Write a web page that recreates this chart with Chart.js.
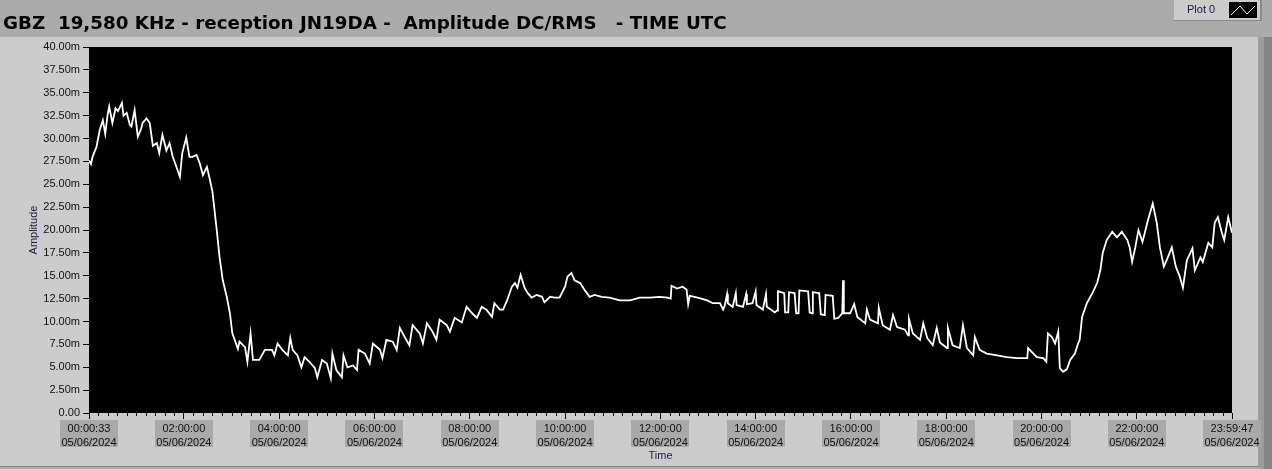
<!DOCTYPE html>
<html>
<head>
<meta charset="utf-8">
<script src="https://cdn.jsdelivr.net/npm/chart.js@4/dist/chart.umd.min.js"></script>
<style>
  html, body { margin: 0; padding: 0; background: #ababab; }
  #wrap { width: 1272px; height: 469px; }
</style>
</head>
<body>
<div id="wrap"><canvas id="ampChart" width="1272" height="469"></canvas></div>
<script>
// Sample times in minutes after midnight UTC (05/06/2024)
const minutes = [
  0.55, 3, 5, 10, 14, 18, 21, 24, 26, 30, 34, 37, 42, 44, 48, 52, 54, 58, 62, 66,
  68, 73, 77, 81, 86, 89, 93, 98, 102, 106, 111, 115, 118, 123, 127, 131, 136, 140, 144, 149,
  152, 156, 161, 165, 169, 174, 178, 181, 184, 188, 190, 197, 200, 204, 207, 215, 222, 231, 234, 238,
  244, 251, 254, 257, 263, 268, 272, 278, 285, 288, 294, 300, 305, 307, 312, 319, 321, 326, 333, 338,
  340, 348, 354, 358, 367, 370, 375, 383, 388, 392, 398, 404, 408, 417, 421, 426, 433, 438, 442, 451,
  455, 461, 470, 476, 483, 489, 495, 501, 508, 511, 518, 522, 527, 533, 537, 540, 544, 549, 553, 558,
  564, 571, 574, 581, 587, 593, 600, 603, 608, 612, 619, 625, 631, 637, 646, 656, 669, 682, 694, 707,
  719, 729, 733, 734, 741, 748, 753, 755, 757, 767, 779, 786, 795, 799, 801, 804, 805, 811, 815, 816,
  824, 828, 829, 836, 840, 841, 849, 853, 854, 864, 867, 868, 876, 877, 881, 882, 889, 891, 894, 895,
  906, 908, 911, 912, 920, 922, 927, 928, 937, 939, 944, 949, 950, 951, 959,
  964, 968, 978, 980, 984, 994, 995, 1000, 1009, 1013, 1018, 1028, 1032, 1033, 1038, 1047, 1051, 1056, 1063, 1068,
  1072, 1081, 1082, 1088, 1097, 1101, 1106, 1114, 1116, 1122,
  1131, 1144, 1156, 1169, 1182, 1183, 1194, 1202, 1206, 1208, 1213, 1217, 1221, 1223, 1227, 1232, 1236, 1242, 1246, 1248, 1251,
  1257, 1264, 1270, 1274, 1277, 1282, 1289, 1295, 1301, 1308, 1311, 1314, 1318, 1322, 1327, 1330, 1334, 1340, 1345, 1349,
  1354, 1359, 1364, 1369, 1374, 1378, 1383, 1390, 1393, 1400, 1403, 1410, 1415, 1418, 1422, 1427, 1430, 1435, 1439.78
];

// Amplitude in milli-units (m)
const amplitude = [
  27.6, 27.2, 28.0, 29.1, 30.9, 32.0, 30.5, 32.6, 33.5, 31.7, 33.3, 33.0, 33.9, 32.5, 32.8, 31.5, 31.3, 33.1, 30.2, 31.0,
  31.7, 32.2, 31.7, 29.2, 29.5, 28.4, 30.4, 28.7, 29.5, 28.0, 26.8, 25.8, 28.4, 30.1, 28.0, 28.0, 28.2, 27.3, 26.0, 26.9,
  25.8, 24.2, 20.3, 17.0, 14.5, 12.7, 10.9, 8.7, 8.0, 7.0, 7.8, 7.2, 5.6, 8.7, 5.8, 5.8, 6.9, 6.9, 6.3, 7.6,
  6.9, 6.3, 8.2, 6.9, 6.3, 5.0, 6.1, 5.6, 4.9, 3.9, 5.8, 5.4, 3.8, 6.5, 4.7, 3.9, 6.3, 5.0, 5.2, 4.7,
  6.9, 6.5, 5.4, 7.6, 6.9, 6.0, 8.0, 7.8, 6.9, 9.3, 8.3, 7.4, 9.6, 8.7, 7.6, 9.8, 8.9, 8.0, 10.2, 9.6,
  8.9, 10.4, 9.9, 11.6, 10.9, 10.4, 11.6, 11.3, 10.5, 12.0, 11.3, 11.3, 12.3, 13.8, 14.2, 13.7, 15.1, 13.7, 13.1, 12.6,
  12.9, 12.7, 12.1, 12.7, 12.6, 12.6, 13.8, 14.9, 15.3, 14.5, 14.2, 13.4, 12.7, 12.9, 12.7, 12.6, 12.3, 12.3, 12.6, 12.6,
  12.7, 12.6, 12.5, 13.9, 13.6, 13.8, 13.5, 11.9, 12.8, 12.6, 12.3, 12.0, 12.0, 11.3, 11.7, 13.0, 12.0, 11.6, 13.1, 11.8,
  11.6, 13.0, 11.9, 12.0, 13.3, 11.8, 11.3, 13.0, 11.6, 11.0, 11.2, 13.3, 13.1, 11.0, 11.0, 13.2, 13.1, 10.9, 10.9, 13.4,
  13.3, 11.0, 10.9, 13.2, 13.1, 10.8, 10.7, 12.9, 12.8, 10.3, 10.4, 10.9, 14.5, 10.9, 10.9,
  11.9, 10.5, 9.8, 11.3, 10.2, 9.8, 11.5, 9.6, 9.1, 10.7, 9.4, 9.1, 8.5, 10.3, 8.7, 8.0, 9.8, 8.2, 7.4, 9.3,
  7.7, 7.1, 9.3, 7.4, 7.1, 9.6, 7.1, 6.3, 8.3, 6.9,
  6.5, 6.3, 6.1, 6.0, 6.0, 7.1, 6.1, 6.0, 5.6, 8.7, 8.3, 7.6, 8.9, 4.9, 4.5, 4.8, 5.8, 6.5, 7.6, 8.0, 10.5,
  12.0, 13.1, 14.2, 15.6, 17.5, 18.9, 19.8, 19.2, 19.8, 18.9, 18.1, 16.5, 18.1, 20.0, 18.7, 19.7, 21.1, 22.9, 20.8, 18.1,
  16.0, 17.0, 18.1, 16.0, 14.9, 13.7, 16.7, 18.0, 15.6, 17.0, 16.5, 18.6, 18.1, 20.8, 21.4, 19.7, 18.9, 21.4, 19.7
];

// X axis tick labels (time of day) and the date line under each
const xTickTimes = ['00:00:33', '02:00:00', '04:00:00', '06:00:00', '08:00:00', '10:00:00', '12:00:00',
  '14:00:00', '16:00:00', '18:00:00', '20:00:00', '22:00:00', '23:59:47'];
const xTickDate = '05/06/2024';
const yMax = 40;
const yStep = 2.5;

const chartTitle = 'GBZ  19,580 KHz - reception JN19DA -  Amplitude DC/RMS   - TIME UTC';
const legendLabel = 'Plot 0';

function toMinutes(hms) {
  const p = hms.split(':').map(Number);
  return p[0] * 60 + p[1] + p[2] / 60;
}
const xTickValues = xTickTimes.map(toMinutes);

const tickFont = "11px 'Liberation Sans', Arial, sans-serif";
Chart.defaults.font.family = "'Liberation Sans', Arial, sans-serif";
Chart.defaults.color = '#111';

// panel, plot background, title, legend box, label boxes and minor ticks
const framePlugin = {
  id: 'frame',
  beforeDraw(chart) {
    const ctx = chart.ctx;
    const a = chart.chartArea;
    const x = chart.scales.x;
    ctx.save();
    ctx.fillStyle = '#ababab';
    ctx.fillRect(0, 0, chart.width, chart.height);
    ctx.fillStyle = '#cccccc';
    ctx.fillRect(0, 37, 1258, 429);
    ctx.fillStyle = '#9c9c9c';
    ctx.fillRect(1258, 37, 6, 432);
    ctx.fillStyle = '#858585';
    ctx.fillRect(1264, 37, 8, 432);
    ctx.fillRect(0, 466, 1258, 1);
    ctx.fillStyle = '#000';
    ctx.fillRect(a.left, a.top, a.right - a.left, a.bottom - a.top);

    // gray boxes behind the time labels
    ctx.font = tickFont;
    ctx.fillStyle = '#a9a9a9';
    xTickValues.forEach(function(v) {
      const w = Math.ceil(ctx.measureText(xTickDate).width) + 2;
      const px = x.getPixelForValue(v);
      ctx.fillRect(Math.round(px - w / 2), a.bottom + 7, w, 27);
    });

    // title
    ctx.fillStyle = '#000';
    ctx.font = "bold 18.3px 'DejaVu Sans', Verdana, sans-serif";
    ctx.textBaseline = 'alphabetic';
    ctx.textAlign = 'left';
    ctx.fillText(chartTitle, 3, 29);

    // legend box
    ctx.fillStyle = '#cccccc';
    ctx.fillRect(1174, 0, 86, 20);
    ctx.fillStyle = '#8a8a8a';
    ctx.fillRect(1174, 20, 86, 1);
    ctx.fillRect(1260, 0, 2, 21);
    ctx.fillStyle = '#1a1a3a';
    ctx.font = tickFont;
    ctx.textBaseline = 'middle';
    ctx.fillText(legendLabel, 1187, 10);
    ctx.fillStyle = '#000';
    ctx.fillRect(1229, 2, 28, 16);
    ctx.strokeStyle = '#fff';
    ctx.lineWidth = 1;
    ctx.beginPath();
    ctx.moveTo(1231, 15);
    ctx.lineTo(1240, 6);
    ctx.lineTo(1247, 14);
    ctx.lineTo(1255, 6);
    ctx.stroke();
    ctx.restore();
  },
  afterDraw(chart) {
    const ctx = chart.ctx;
    const x = chart.scales.x;
    const bottom = chart.chartArea.bottom;
    ctx.save();
    ctx.strokeStyle = '#000';
    ctx.lineWidth = 1;
    ctx.beginPath();
    for (let m = 12; m < 1440; m += 12) {
      if (m % 120 === 0) continue;
      const px = Math.round(x.getPixelForValue(m)) + 0.5;
      ctx.moveTo(px, bottom);
      ctx.lineTo(px, bottom + 3);
    }
    ctx.stroke();
    ctx.restore();
  }
};

const points = minutes.map((m, i) => ({ x: m, y: amplitude[i] }));

const ctx = document.getElementById('ampChart').getContext('2d');
const chart = new Chart(ctx, {
  type: 'line',
  data: {
    datasets: [{
      label: legendLabel,
      data: points,
      borderColor: '#ffffff',
      borderWidth: 1.8,
      pointRadius: 0,
      tension: 0,
      fill: false
    }]
  },
  options: {
    responsive: false,
    animation: false,
    layout: { padding: { top: 47, left: 0, right: 40, bottom: 0 } },
    plugins: {
      legend: { display: false },
      tooltip: { enabled: false },
      title: { display: false }
    },
    scales: {
      x: {
        type: 'linear',
        min: xTickValues[0],
        max: xTickValues[xTickValues.length - 1],
        afterBuildTicks: function(scale) {
          scale.ticks = xTickValues.map(v => ({ value: v }));
        },
        afterFit: function(scale) {
          scale.height = 56;
        },
        grid: { drawOnChartArea: false, tickLength: 6, tickColor: '#000' },
        border: { display: false },
        ticks: {
          autoSkip: false,
          maxRotation: 0,
          padding: 2,
          color: '#111',
          font: { size: 11, lineHeight: 1.36 },
          callback: function(value, index) {
            return [xTickTimes[index], xTickDate];
          }
        },
        title: {
          display: true,
          text: 'Time',
          color: '#1a1a4a',
          font: { size: 11 },
          padding: { top: 0, bottom: 6 }
        }
      },
      y: {
        min: 0,
        max: yMax,
        afterFit: function(scale) {
          scale.width = 89;
        },
        grid: { drawOnChartArea: false, tickLength: 6, tickColor: '#000' },
        border: { display: false },
        ticks: {
          stepSize: yStep,
          autoSkip: false,
          padding: 3,
          color: '#111',
          font: { size: 11 },
          callback: function(value) {
            return value === 0 ? '0.00' : value.toFixed(2) + 'm';
          }
        },
        title: {
          display: true,
          text: 'Amplitude',
          color: '#1a1a4a',
          font: { size: 11 },
          padding: { top: 27, bottom: 0 }
        }
      }
    }
  },
  plugins: [framePlugin]
});
</script>
</body>
</html>
